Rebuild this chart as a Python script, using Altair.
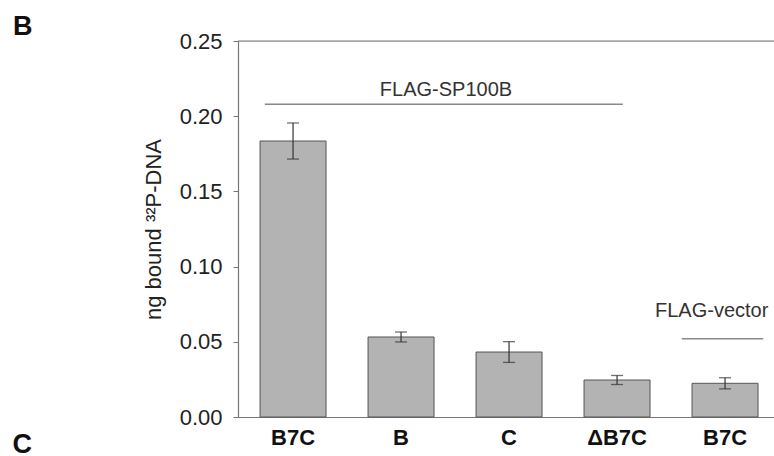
import altair as alt
import pandas as pd

# ---- data ----
labels = ["B7C", "B", "C", "ΔB7C", "B7C"]
values = [0.1835, 0.0532, 0.0432, 0.0246, 0.0224]
errors = [0.0120, 0.0033, 0.0069, 0.0030, 0.0037]

# group annotation lines (x in band units 0..5, y in data units)
group_names = ["FLAG-SP100B", "FLAG-vector"]
group_x_start = [0.25, 4.14]
group_x_end = [3.59, 4.90]
group_line_y = [0.208, 0.052]
group_text_x = [1.94, 3.89]
group_text_y = [0.2134, 0.0667]

y_max = 0.25
font = "Liberation Sans"

bars_df = pd.DataFrame({
    "idx": list(range(len(labels))),
    "value": values,
    "lo": [v - e for v, e in zip(values, errors)],
    "hi": [v + e for v, e in zip(values, errors)],
})
lines_df = pd.DataFrame({"x": group_x_start, "x2": group_x_end, "y": group_line_y})
top_df = pd.DataFrame({"x": [0], "x2": [5], "y": [y_max]})
text_df = pd.DataFrame({"x": group_text_x, "y": group_text_y, "name": group_names})

label_expr = "[" + ",".join("'" + l + "'" for l in labels) + "][datum.value]"

yscale = alt.Scale(domain=[0, y_max], nice=False)
xband = alt.X(
    "idx:O", sort=None,
    scale=alt.Scale(paddingInner=0.389, paddingOuter=0.176, align=0.58),
    axis=alt.Axis(
        labelExpr=label_expr, labelAngle=0, labelFont=font, labelFontSize=22,
        labelFontWeight="bold", labelColor="#111", labelPadding=10,
        ticks=False, domainColor="#777", domainWidth=1.2,
        title="C", titleFont=font, titleFontSize=27, titleFontWeight="bold",
        titleColor="#111", titleX=-226, titleY=35, titleAlign="left",
        titleAnchor="start", titleBaseline="alphabetic", titleAngle=0,
    ),
)
yaxis = alt.Axis(
    values=[0, 0.05, 0.10, 0.15, 0.20, 0.25], format=".2f", grid=False,
    labelFont=font, labelFontSize=22, labelColor="#222", labelPadding=11,
    tickSize=5, tickColor="#777", domainColor="#777", domainWidth=1.2,
    title="ng bound ³²P-DNA", titleFont=font, titleFontSize=22,
    titleFontWeight="normal", titleColor="#222", titlePadding=14,
)
yenc = alt.Y("value:Q", scale=yscale, axis=yaxis)

bars = alt.Chart(bars_df).mark_bar(
    color="#b3b3b3", stroke="#555", strokeWidth=1
).encode(x=xband, y=yenc)

err = alt.Chart(bars_df).mark_rule(color="#333", strokeWidth=1.2).encode(
    x=alt.X("idx:O", sort=None), y=alt.Y("lo:Q", scale=yscale, axis=yaxis), y2="hi:Q"
)
caps_hi = alt.Chart(bars_df).mark_tick(
    color="#333", size=12, thickness=1.3, orient="horizontal"
).encode(x=alt.X("idx:O", sort=None), y=alt.Y("hi:Q", scale=yscale, axis=yaxis))
caps_lo = alt.Chart(bars_df).mark_tick(
    color="#333", size=12, thickness=1.3, orient="horizontal"
).encode(x=alt.X("idx:O", sort=None), y=alt.Y("lo:Q", scale=yscale, axis=yaxis))

bar_layer = alt.layer(bars, err, caps_hi, caps_lo)

xq = alt.Scale(domain=[0, 5], nice=False, zero=False)
top_rule = alt.Chart(top_df).mark_rule(color="#777", strokeWidth=1.2).encode(
    x=alt.X("x:Q", scale=xq, axis=None), x2="x2:Q",
    y=alt.Y("y:Q", scale=yscale, axis=yaxis),
)
group_rules = alt.Chart(lines_df).mark_rule(color="#888", strokeWidth=1.5).encode(
    x=alt.X("x:Q", scale=xq, axis=None), x2="x2:Q",
    y=alt.Y("y:Q", scale=yscale, axis=yaxis),
)
text_center = alt.Chart(text_df.iloc[[0]]).mark_text(
    font=font, fontSize=20, color="#333", baseline="alphabetic", align="center"
).encode(
    x=alt.X("x:Q", scale=xq, axis=None),
    y=alt.Y("y:Q", scale=yscale, axis=yaxis),
    text="name:N",
)
text_left = alt.Chart(text_df.iloc[[1]]).mark_text(
    font=font, fontSize=20, color="#333", baseline="alphabetic", align="left"
).encode(
    x=alt.X("x:Q", scale=xq, axis=None),
    y=alt.Y("y:Q", scale=yscale, axis=yaxis),
    text="name:N",
)
annot_layer = alt.layer(top_rule, group_rules, text_center, text_left)

chart = alt.layer(bar_layer, annot_layer).resolve_scale(x="independent").properties(
    width=536, height=376,
    autosize=alt.AutoSizeParams(type="none"),
    padding={"left": 238, "top": 41, "right": 0, "bottom": 39},
    title=alt.TitleParams(
        "B", anchor="start", dx=-225, dy=39, font=font, fontSize=27, fontWeight="bold",
        color="#111", baseline="alphabetic", offset=7, frame="group",
    ),
).configure_view(stroke=None).configure(background="white")

chart.save("out.html", embed_options={"renderer": "svg", "actions": False})
